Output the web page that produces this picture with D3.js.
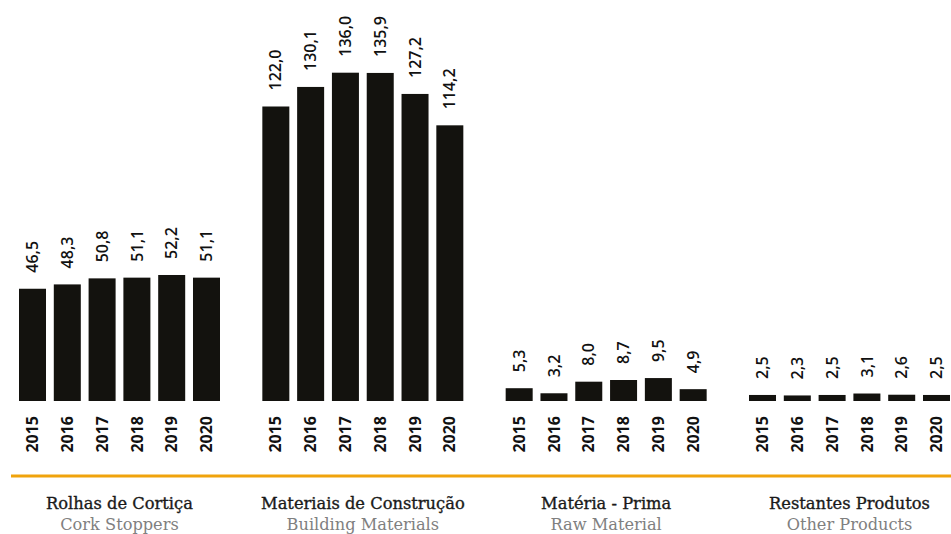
<!DOCTYPE html>
<html>
<head>
<meta charset="utf-8">
<script src="https://cdn.jsdelivr.net/npm/d3@7"></script>
<style>
  body { margin: 0; background: #fff; }
  svg { display: block; }
  .val { font-family: "Open Sans", sans-serif; font-size: 16px; font-weight: 600; fill: #111; }
  .year { font-family: "Open Sans", sans-serif; font-size: 16px; font-weight: 700; fill: #111; }
  .title { font-family: "DejaVu Serif", serif; font-size: 16.3px; fill: #1a1a1a; stroke: #1a1a1a; stroke-width: 0.35px; }
  .sub { font-family: "DejaVu Serif", serif; font-size: 16.2px; fill: #808080; }
</style>
</head>
<body>
<svg width="951" height="534"></svg>
<script>
// categories and series
var groups = ["Rolhas de Cortiça", "Materiais de Construção", "Matéria - Prima", "Restantes Produtos"];
var subtitles = ["Cork Stoppers", "Building Materials", "Raw Material", "Other Products"];
var years = ["2015", "2016", "2017", "2018", "2019", "2020"];

var corks = [46.5, 48.3, 50.8, 51.1, 52.2, 51.1];
var building = [122.0, 130.1, 136.0, 135.9, 127.2, 114.2];
var rawMat = [5.3, 3.2, 8.0, 8.7, 9.5, 4.9];
var others = [2.5, 2.3, 2.5, 3.1, 2.6, 2.5];

var series = [corks, building, rawMat, others];

var svg = d3.select("svg");
var base = 401;

var x0 = d3.scaleBand()
  .domain(groups)
  .range([19, 950])
  .paddingInner(0.174)
  .paddingOuter(0);

var x1 = d3.scaleBand()
  .domain(years)
  .range([0, x0.bandwidth()])
  .paddingInner(0.224)
  .paddingOuter(0);

var y = d3.scaleLinear()
  .domain([0, 136])
  .range([base, 72.7]);

var fmt = v => d3.format(".1f")(v).replace(".", ",");

var g = svg.selectAll(".grp")
  .data(groups)
  .join("g")
  .attr("class", "grp")
  .attr("transform", d => "translate(" + x0(d) + ",0)");

g.selectAll("rect")
  .data((d, i) => series[i].map((v, j) => ({ year: years[j], v: v })))
  .join("rect")
  .attr("x", d => x1(d.year))
  .attr("width", x1.bandwidth())
  .attr("y", d => y(d.v))
  .attr("height", d => base - y(d.v))
  .attr("fill", "#13120e");

g.selectAll(".val")
  .data((d, i) => series[i].map((v, j) => ({ year: years[j], v: v })))
  .join("text")
  .attr("class", "val")
  .attr("transform", d => "translate(" + (x1(d.year) + x1.bandwidth() / 2) + "," + (y(d.v) - 16) + ") rotate(-90)")
  .attr("dy", "0.35em")
  .attr("text-anchor", "start")
  .text(d => fmt(d.v));

g.selectAll(".year")
  .data(years)
  .join("text")
  .attr("class", "year")
  .attr("transform", d => "translate(" + (x1(d) + x1.bandwidth() / 2) + "," + (base + 15) + ") rotate(-90)")
  .attr("dy", "0.35em")
  .attr("text-anchor", "end")
  .text(d => d);

svg.append("line")
  .attr("x1", 11).attr("x2", 951)
  .attr("y1", 476).attr("y2", 476)
  .attr("stroke", "#f0a30c")
  .attr("stroke-width", 3);

g.append("text")
  .attr("class", "title")
  .attr("x", x0.bandwidth() / 2)
  .attr("y", 509)
  .attr("text-anchor", "middle")
  .text(d => d);

g.append("text")
  .attr("class", "sub")
  .attr("x", x0.bandwidth() / 2)
  .attr("y", 530)
  .attr("text-anchor", "middle")
  .text((d, i) => subtitles[i]);
</script>
</body>
</html>
